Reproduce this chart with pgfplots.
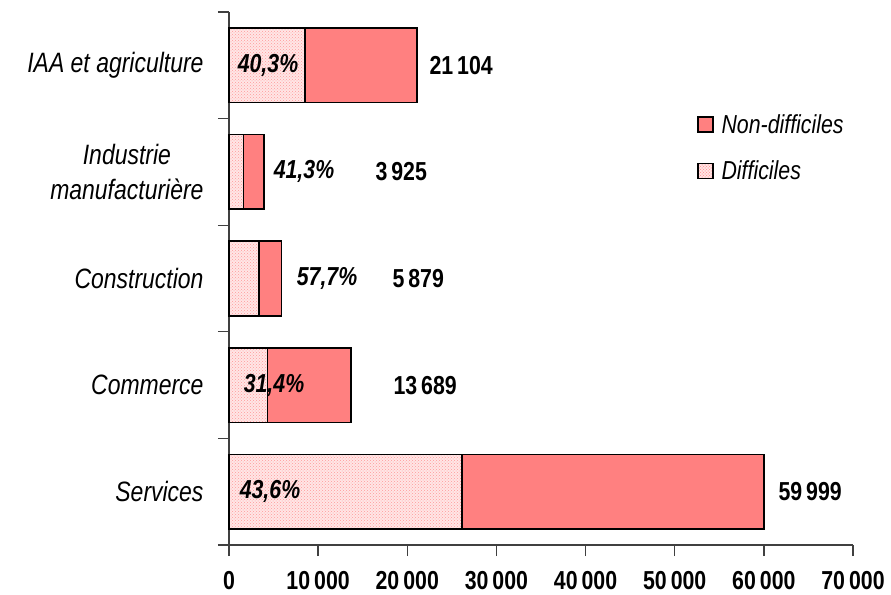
\documentclass[border=0pt]{standalone}
\usepackage{pgfplots}
\pgfplotsset{compat=1.18}
\usepackage{fontspec}
\setmainfont{Liberation Sans}[FakeStretch=0.82]
\usetikzlibrary{patterns}
\definecolor{saumon}{HTML}{FF8080}
\definecolor{rosepoint}{HTML}{FF9A9A}
\definecolor{rosefond}{HTML}{FFE6E6}

\begin{document}
\begin{tikzpicture}[font=\fontsize{26}{31}\selectfont]
  \begin{axis}[
      name=ax,
      scale only axis,
      width=624pt, height=533pt,
      xbar stacked,
      bar width=0.7,
      xmin=0, xmax=70000,
      ymin=-0.5, ymax=4.5,
      axis lines=left,
      axis line style={-, black!75, line width=1.3pt},
      tick style={black!75, line width=1.3pt},
      tick align=outside,
      major tick length=11pt,
      xtick={0,10000,...,70000},
      scaled x ticks=false,
      /pgf/number format/.cd, 1000 sep={\hspace{4pt}}, assume math mode=true,
      /pgfplots/.cd,
      xticklabel style={font=\fontsize{26}{31}\selectfont\bfseries, yshift=-12pt},
      ytick={-0.5,0.5,1.5,2.5,3.5,4.5},
      yticklabels={},
      extra y ticks={0,1,2,3,4},
      extra y tick labels={Services,Commerce,Construction,{Industrie\\manufacturière},IAA et agriculture},
      extra y tick style={major tick length=0pt, tick style={draw=none},
        yticklabel style={font=\fontsize{28}{35}\selectfont\itshape, align=center, xshift=-22pt}},
      legend style={draw=none, fill=none, at={(0.745,0.815)}, anchor=north west,
        font=\fontsize{26}{31}\selectfont\itshape, row sep=22pt},
      legend cell align=left,
      reverse legend,
      clip=false,
    ]
    % Difficiles
    \addplot[draw=black, line width=1.5pt, fill=rosefond,
      postaction={pattern=crosshatch dots, pattern color=rosepoint},
      legend image code/.code={\draw[black, line width=1.5pt, fill=rosefond,
        postaction={pattern=crosshatch dots, pattern color=rosepoint}] (0pt,-7pt) rectangle (15pt,8pt);
        \path (21pt,0pt);}]
      coordinates {(26160,0) (4298,1) (3392,2) (1621,3) (8505,4)};
    \addlegendentry{Difficiles}
    % Non-difficiles
    \addplot[draw=black, line width=1.5pt, fill=saumon,
      legend image code/.code={\draw[black, line width=1.5pt, fill=saumon] (0pt,-7pt) rectangle (15pt,8pt);
        \path (21pt,0pt);}]
      coordinates {(33839,0) (9391,1) (2487,2) (2304,3) (12599,4)};
    \addlegendentry{Non-difficiles}

    % positions des etiquettes
    \coordinate (p0) at (axis cs:4600,0);
    \coordinate (p1) at (axis cs:5050,1);
    \coordinate (p2) at (axis cs:11000,2);
    \coordinate (p3) at (axis cs:8414,3);
    \coordinate (p4) at (axis cs:4375,4);
    \coordinate (t0) at (axis cs:61250,0);
    \coordinate (t1) at (axis cs:18060,1);
    \coordinate (t2) at (axis cs:17950,2);
    \coordinate (t3) at (axis cs:16040,3);
    \coordinate (t4) at (axis cs:22100,4);
  \end{axis}
  % part des difficiles
  \begin{scope}[every node/.style={font=\fontsize{26}{31}\selectfont\bfseries\itshape}]
    \node at (p0) {43,6\%};
    \node at (p1) {31,4\%};
    \node at (p2) {57,7\%};
    \node at (p3) {41,3\%};
    \node at (p4) {40,3\%};
  \end{scope}
  % totaux
  \begin{scope}[every node/.style={anchor=west, font=\fontsize{26}{31}\selectfont\bfseries}]
    \node at (t0) {59\hspace{4pt}999};
    \node at (t1) {13\hspace{4pt}689};
    \node at (t2) {5\hspace{4pt}879};
    \node at (t3) {3\hspace{4pt}925};
    \node at (t4) {21\hspace{4pt}104};
  \end{scope}
  \path ([shift={(-229pt,-49pt)}]ax.south west) rectangle ([shift={(662pt,545pt)}]ax.south west);
\end{tikzpicture}
\end{document}
